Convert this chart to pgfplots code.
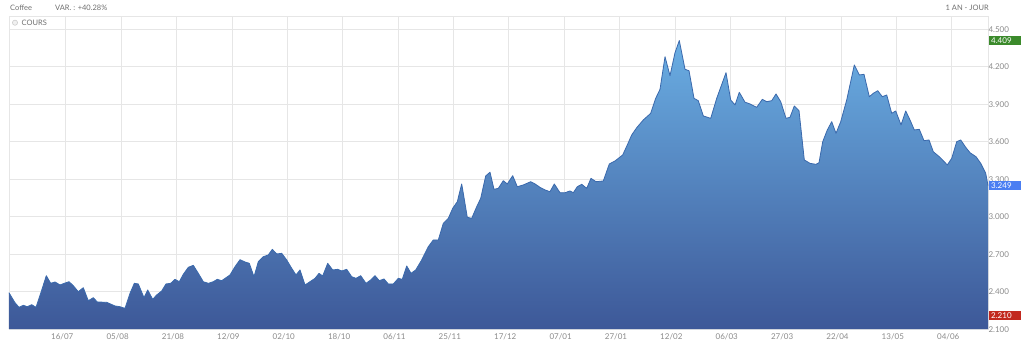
\documentclass[border=0pt]{standalone}
\usepackage{fontspec}
\setmainfont{Lato}
\usepackage{pgfplots}
\usepackage{pgfplotstable}
\pgfplotsset{compat=1.18}
\definecolor{gridc}{HTML}{E6E6E6}
\definecolor{labc}{HTML}{8A8A8A}
\definecolor{headc}{HTML}{6E6E6E}
\definecolor{topc}{HTML}{6AAEE3}
\definecolor{botc}{HTML}{3D5898}
\definecolor{linec}{HTML}{3A69AC}
\definecolor{badgegreen}{HTML}{3B8A2B}
\definecolor{badgeblue}{HTML}{4A7EF2}
\definecolor{badgered}{HTML}{C2291F}

\pgfplotstableread{
x y
9 2.392
15 2.312
19 2.275
23.3 2.291
27.3 2.280
31.7 2.296
36 2.275
40.7 2.387
46.3 2.528
50.7 2.467
55 2.478
60 2.454
64.3 2.467
69 2.480
73.3 2.448
78.3 2.400
83.3 2.432
88.3 2.328
93.3 2.352
97.3 2.318
106.7 2.315
115 2.286
120 2.280
125 2.267
130 2.387
134.3 2.467
138.3 2.462
144 2.352
147.7 2.414
152.7 2.339
156.7 2.374
161.7 2.406
166 2.462
170.7 2.467
175 2.499
179.3 2.480
183.3 2.539
188.3 2.595
193.3 2.611
198.3 2.547
203.3 2.480
208.3 2.467
213.3 2.480
217.3 2.499
221.7 2.488
230 2.534
235 2.600
240 2.656
245 2.638
249.3 2.627
254 2.520
258.3 2.640
263.3 2.680
268.3 2.694
272.3 2.739
276.7 2.702
281.7 2.707
286.7 2.654
291.7 2.587
296 2.534
300 2.574
305 2.454
310 2.480
315 2.507
319 2.547
322.7 2.526
327.7 2.627
332.7 2.574
337.7 2.579
341.7 2.566
346.7 2.579
351.7 2.520
356 2.507
360.7 2.528
366 2.467
370.7 2.494
375 2.528
379.3 2.488
384 2.502
388.3 2.462
393.3 2.462
398.3 2.507
402.3 2.499
406.7 2.606
411 2.547
415.7 2.574
421.7 2.654
428.3 2.760
433.3 2.814
438.3 2.814
443.3 2.947
448.3 2.987
452.7 3.067
457.3 3.120
461.7 3.262
467.3 2.995
471.7 2.987
476.7 3.080
480.7 3.147
485.7 3.326
490 3.356
494 3.219
498.3 3.227
503.3 3.288
507.3 3.262
512.7 3.328
517.3 3.240
523.3 3.254
530.7 3.280
535 3.262
540 3.235
545 3.214
550 3.200
554.3 3.262
560 3.192
565 3.192
570 3.206
573.3 3.192
577.3 3.240
581.7 3.259
586.7 3.227
591 3.307
596 3.280
603.3 3.286
609.3 3.422
615 3.446
622.7 3.494
627.3 3.574
631.7 3.654
636.7 3.712
643.3 3.774
650.7 3.827
655.7 3.947
660 4.019
665 4.280
670 4.128
675 4.312
679.3 4.409
685 4.179
689 4.168
694 3.947
698.3 3.928
703.3 3.806
710.7 3.787
716.7 3.947
726 4.152
730.7 3.934
735 3.894
739.3 3.995
745 3.916
750 3.902
756.7 3.875
762.3 3.939
766.7 3.920
771.7 3.928
776 3.982
780.7 3.920
786 3.787
790 3.795
794.3 3.886
799 3.848
804.3 3.454
810 3.427
816 3.419
819 3.432
822.7 3.600
827.3 3.694
831.7 3.760
836 3.667
840.7 3.760
846.7 3.934
854.3 4.214
859.3 4.134
864 4.139
869.3 3.960
873.3 3.987
877.7 4.008
882.3 3.960
886.7 3.974
891.7 3.827
895.7 3.846
901 3.734
905.7 3.846
910 3.774
914.3 3.694
919.3 3.699
924 3.608
929 3.614
933.3 3.520
940 3.475
947.3 3.414
951.7 3.467
956.7 3.600
960.7 3.614
965.7 3.555
970 3.512
976 3.480
980.7 3.427
985.7 3.347
988 3.249
}\coffee

\begin{document}
\begin{tikzpicture}
\begin{axis}[
  at={(0pt,0pt)}, anchor=south west,
  scale only axis, width=979pt, height=312.5pt,
  xmin=9, xmax=988, ymin=2.1, ymax=4.6,
  axis line style={draw=gridc, line width=0.6pt},
  grid=major, major grid style={draw=gridc, line width=0.6pt},
  xtick={65.7,121.1,176.5,231.8,287.2,342.6,398.0,453.3,508.7,564.1,619.5,674.8,730.2,785.6,841.0,896.3,951.7},
  xticklabels={16/07,05/08,21/08,12/09,02/10,18/10,06/11,25/11,17/12,07/01,27/01,12/02,06/03,27/03,22/04,13/05,04/06},
  ytick={2.1,2.4,2.7,3.0,3.3,3.6,3.9,4.2,4.5},
  yticklabel pos=right,
  major tick length=0pt,
  tick style={draw=none},
  ticklabel style={font=\fontsize{8}{9}\selectfont, text=labc},
  /pgf/number format/assume math mode=true,
  yticklabel style={/pgf/number format/.cd, fixed, fixed zerofill, precision=3, /tikz/.cd, anchor=west, xshift=-3pt},
  xticklabel style={xshift=-3.5pt, yshift=-1pt},
  clip=false,
  no markers,
]
\addplot[draw=none, top color=topc, bottom color=botc] table {\coffee} \closedcycle;
\addplot[draw=linec, line width=0.8pt, line join=round] table {\coffee};

\node[anchor=west, fill=badgegreen, text=white, font=\fontsize{8}{9}\selectfont, inner sep=0pt, minimum width=32pt, minimum height=9.5pt, text width=28pt, align=left, xshift=1pt] at (axis cs:988,4.409) {4.409};
\node[anchor=west, fill=badgeblue, text=white, font=\fontsize{8}{9}\selectfont, inner sep=0pt, minimum width=32pt, minimum height=9.5pt, text width=28pt, align=left, xshift=1pt] at (axis cs:988,3.249) {3.249};
\node[anchor=west, fill=badgered, text=white, font=\fontsize{8}{9}\selectfont, inner sep=0pt, minimum width=32pt, minimum height=9.5pt, text width=28pt, align=left, xshift=1pt] at (axis cs:988,2.210) {2.210};
\end{axis}

% header texts (1pt = 1px, origin at plot's lower left)
\node[anchor=west, inner sep=0pt, text=headc, font=\fontsize{7.5}{9}\selectfont] at (1pt,321pt) {Coffee};
\node[anchor=west, inner sep=0pt, text=headc, font=\fontsize{7.5}{9}\selectfont] at (46pt,321pt) {VAR. : +40.28\%};
\node[anchor=east, inner sep=0pt, text=headc, font=\fontsize{7.5}{9}\selectfont] at (980pt,321pt) {1 AN - JOUR};
\draw[draw=gray!40, fill=gray!12, line width=0.6pt] (6pt,306.5pt) circle (2.6pt);
\node[anchor=west, inner sep=0pt, text=headc, font=\fontsize{7.5}{9}\selectfont] at (12.5pt,306.5pt) {COURS};

\pgfresetboundingbox
\path[use as bounding box] (-9pt,-16.8pt) rectangle (1015pt,329.2pt);
\end{tikzpicture}
\end{document}
